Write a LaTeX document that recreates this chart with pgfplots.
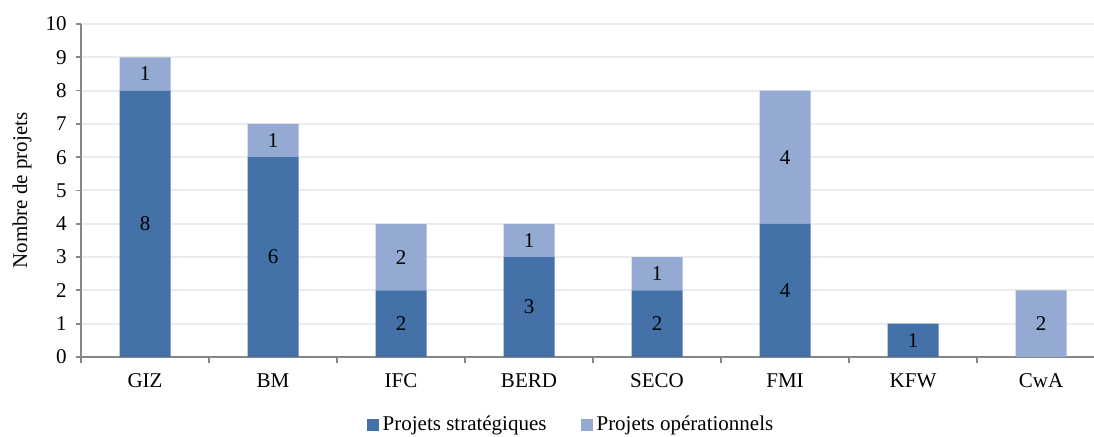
\documentclass[border=0pt]{standalone}
\usepackage{fontspec}
\setmainfont{Liberation Serif}
\usepackage{pgfplots}
\pgfplotsset{compat=1.18}
\definecolor{strat}{RGB}{68,114,168}
\definecolor{oper}{RGB}{149,170,210}
\definecolor{axgray}{RGB}{134,134,134}
\definecolor{gridgray}{RGB}{236,236,236}
\begin{document}
\fontsize{10.5}{12}\selectfont
\begin{tikzpicture}
\useasboundingbox (0,0) rectangle (547pt,218.5pt);
\begin{axis}[
  at={(40.5pt,40pt)}, anchor=south west, scale only axis,
  width=506.5pt, height=166.5pt,
  ybar stacked, bar width=25.5pt,
  xmin=-0.5, xmax=7.414, ymin=0, ymax=10,
  axis x line*=bottom, axis y line*=left,
  axis line style={axgray, line width=0.9pt, -},
  xtick={0,...,7},
  xticklabels={GIZ,BM,IFC,BERD,SECO,FMI,KFW,CwA},
  major x tick style={draw=none},
  minor xtick={-0.5,0.5,...,6.5},
  minor x tick style={axgray, line width=0.9pt},
  minor tick length=3pt,
  ytick={0,...,10},
  major y tick style={axgray, line width=0.9pt},
  major tick length=2.5pt,
  tick align=outside,
  ymajorgrids, grid style={gridgray, line width=1pt},
  /pgf/number format/assume math mode=true,
  ticklabel style={font=\fontsize{10.5}{12}\selectfont},
  yticklabel style={xshift=-1pt},
  xticklabel style={yshift=-2pt},
  ylabel={Nombre de projets},
  ylabel style={at={(axis description cs:-0.0582,0.5)}, anchor=center, font=\fontsize{10.5}{12}\selectfont},
  legend style={at={(axis description cs:0.4847,-0.204)}, anchor=center, draw=none,
    legend columns=2, font=\fontsize{10.5}{12}\selectfont,
    /tikz/every even column/.append style={column sep=15pt}},
  legend image code/.code={\fill[#1] (0pt,-3pt) rectangle (6pt,3pt);},
]
\addplot[fill=strat, draw=none] coordinates {(0,8) (1,6) (2,2) (3,3) (4,2) (5,4) (6,1) (7,0)};
\addplot[fill=oper, draw=none] coordinates {(0,1) (1,1) (2,2) (3,1) (4,1) (5,4) (6,0) (7,2)};
\legend{Projets stratégiques, Projets opérationnels}
\end{axis}
\begin{axis}[
  at={(40.5pt,40pt)}, anchor=south west, scale only axis,
  width=506.5pt, height=166.5pt,
  xmin=-0.5, xmax=7.414, ymin=0, ymax=10,
  hide axis,
]
\addplot[only marks, mark=none, nodes near coords, point meta=explicit symbolic,
  nodes near coords style={anchor=center, font=\fontsize{10.5}{12}\selectfont, text=black}]
  table[meta=lab] {
x y lab
0 4 8
0 8.5 1
1 3 6
1 6.5 1
2 1 2
2 3 2
3 1.5 3
3 3.5 1
4 1 2
4 2.5 1
5 2 4
5 6 4
6 0.5 1
7 1 2
};
\end{axis}
\end{tikzpicture}
\end{document}
